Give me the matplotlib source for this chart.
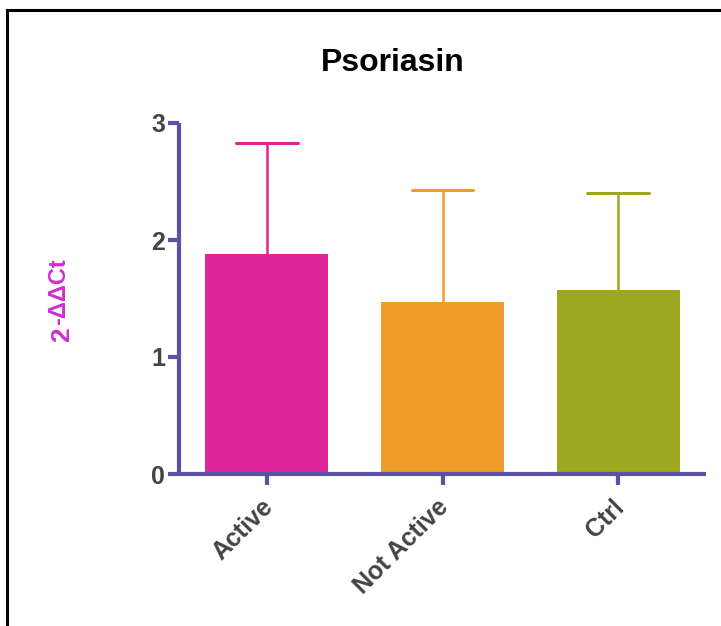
import matplotlib
matplotlib.use("Agg")
import matplotlib.pyplot as plt
from matplotlib.lines import Line2D
from matplotlib.transforms import ScaledTranslation

categories = ["Active", "Not Active", "Ctrl"]
means = [1.88, 1.47, 1.57]
upper_err = [0.95, 0.96, 0.83]   # mean + err = top of whisker
bar_colors = ["#df2599", "#ef9d2a", "#9ea81f"]
yticks = [0, 1, 2, 3]

axis_color = "#5b52a8"
label_gray = "#444444"
ylabel_color = "#cf2fcf"

plt.rcParams["font.family"] = ["Liberation Sans", "DejaVu Sans"]

W, H = 721, 626
fig = plt.figure(figsize=(W / 100, H / 100), dpi=100)
ax = fig.add_axes([179 / W, 152 / H, (706 - 179) / W, (474 - 123) / H])

x = list(range(len(categories)))
bar_w = 0.70
cap_w = 0.35
ax.bar(x, means, width=bar_w, color=bar_colors, zorder=2)
for xi, m, e, c in zip(x, means, upper_err, bar_colors):
    ax.vlines(xi, m, m + e, colors=c, linewidth=1.8, zorder=1)
    ax.hlines(m + e, xi - cap_w / 2, xi + cap_w / 2, colors=c, linewidth=2.2,
              zorder=1, capstyle="round")

ax.set_xlim(-0.5, 2.5)
ax.set_ylim(0, 3)
ax.set_yticks(yticks)
ax.set_xticks(x)
ax.set_xticklabels(categories, rotation=45, ha="right", rotation_mode="anchor")

for side in ("top", "right"):
    ax.spines[side].set_visible(False)
for side in ("left", "bottom"):
    ax.spines[side].set_color(axis_color)
    ax.spines[side].set_linewidth(3)
    ax.spines[side].set_capstyle("butt")

ax.tick_params(axis="both", colors=axis_color, width=3, length=8,
               labelcolor=label_gray, labelsize=18)
ax.tick_params(axis="y", pad=2)
ax.tick_params(axis="x", pad=7)
shift = ScaledTranslation(-6 / 100, 0, fig.dpi_scale_trans)
for lbl in ax.get_xticklabels():
    lbl.set_fontweight("bold")
    lbl.set_transform(lbl.get_transform() + shift)
for lbl in ax.get_yticklabels():
    lbl.set_fontweight("bold")

fig.text(393 / W, 1 - 63 / H, "Psoriasin", ha="center", va="center",
         fontsize=23, fontweight="bold", color="black")

# y label: base "2" with the exponent "-ΔΔCt" set above it (rotated)
fig.text(62 / W, 1 - 342 / H, "2", rotation=90, ha="center", va="bottom",
         fontsize=19, fontweight="bold", color=ylabel_color)
fig.text(59 / W, 1 - 325 / H, "-ΔΔCt", rotation=90, ha="center", va="bottom",
         fontsize=17, fontweight="bold", color=ylabel_color)

# frame lines along the top and left edges
fig.add_artist(Line2D([7 / W, 7 / W], [0, 1 - 10 / H], transform=fig.transFigure,
                      color="black", linewidth=2.2, solid_capstyle="projecting"))
fig.add_artist(Line2D([7 / W, 1], [1 - 10 / H, 1 - 10 / H], transform=fig.transFigure,
                      color="black", linewidth=2.2, solid_capstyle="projecting"))

fig.savefig("out.png", dpi=100)
